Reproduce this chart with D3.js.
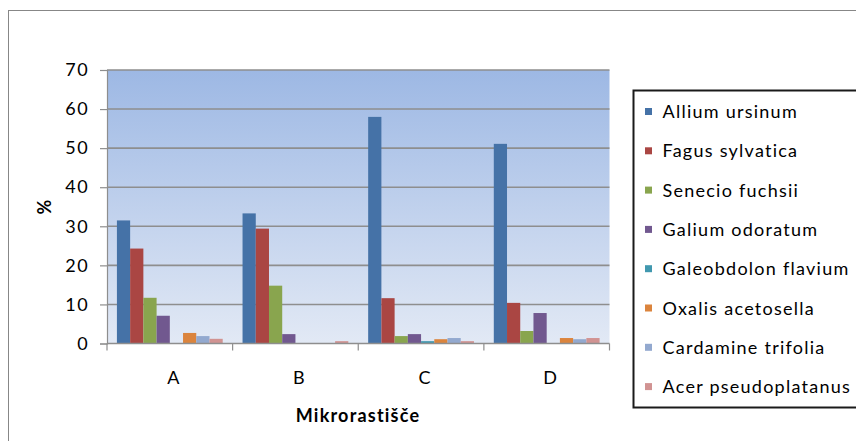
<!DOCTYPE html>
<html>
<head>
<meta charset="utf-8">
<script src="https://cdn.jsdelivr.net/npm/d3@7"></script>
<style>
  html, body { margin: 0; padding: 0; background: #fff; }
  svg { display: block; }
  text { font-family: Lato, "Open Sans", sans-serif; fill: #000; }
</style>
</head>
<body>
<svg id="chart" width="856" height="441"></svg>
<script>
// Sites (micro-habitats) along the x axis
const categories = ["A", "B", "C", "D"];

// Species shown as clustered bars
const series = [
  "Allium ursinum",
  "Fagus sylvatica",
  "Senecio fuchsii",
  "Galium odoratum",
  "Galeobdolon flavium",
  "Oxalis acetosella",
  "Cardamine trifolia",
  "Acer pseudoplatanus"
];

// Share (%) of each species per site, in series order
const valuesA = [31.5, 24.3, 11.7, 7.1, 0, 2.7, 1.9, 1.2];
const valuesB = [33.3, 29.4, 14.8, 2.4, 0, 0, 0, 0.6];
const valuesC = [58.0, 11.6, 1.9, 2.4, 0.6, 1.1, 1.4, 0.6];
const valuesD = [51.1, 10.4, 3.2, 7.8, 0, 1.4, 1.1, 1.4];

const yTicks = [0, 10, 20, 30, 40, 50, 60, 70];

const colors = ["#4572A7", "#AA4643", "#89A54E", "#71588F", "#4198AF", "#DB843D", "#93A9CF", "#D19392"];

const rows = [valuesA, valuesB, valuesC, valuesD];
const data = categories.map((c, i) => ({
  category: c,
  values: series.map((s, j) => ({ series: s, value: rows[i][j] }))
}));

const svg = d3.select("#chart");

// Outer chart frame
svg.append("rect")
  .attr("x", 8.5).attr("y", 10.5)
  .attr("width", 900).attr("height", 500)
  .attr("fill", "none").attr("stroke", "#878787").attr("stroke-width", 1);

const plot = { left: 107, right: 609.5, top: 70, bottom: 343.5 };

const x0 = d3.scaleBand().domain(categories).range([plot.left, plot.right]).padding(0);
const x1 = d3.scaleBand().domain(series).range([0, x0.bandwidth()])
  .paddingInner(0).paddingOuter(0.75);
const y = d3.scaleLinear().domain([0, 70]).range([plot.bottom, plot.top]);
const color = d3.scaleOrdinal().domain(series).range(colors);

// Plot-area gradient background
const defs = svg.append("defs");
const grad = defs.append("linearGradient").attr("id", "plotBg")
  .attr("x1", 0).attr("y1", 0).attr("x2", 0).attr("y2", 1);
grad.append("stop").attr("offset", "0%").attr("stop-color", "#9DB8E4");
grad.append("stop").attr("offset", "100%").attr("stop-color", "#E2E9F5");

svg.append("rect")
  .attr("x", plot.left).attr("y", plot.top)
  .attr("width", plot.right - plot.left).attr("height", plot.bottom - plot.top)
  .attr("fill", "url(#plotBg)");

// Horizontal gridlines
svg.append("g")
  .selectAll("line")
  .data(yTicks.filter(t => t > 0))
  .join("line")
  .attr("x1", plot.left).attr("x2", plot.right)
  .attr("y1", d => y(d)).attr("y2", d => y(d))
  .attr("stroke", "#8E8E8E").attr("stroke-width", 1.6);

// Bars
svg.append("g")
  .selectAll("g")
  .data(data)
  .join("g")
  .attr("transform", d => `translate(${x0(d.category)},0)`)
  .selectAll("rect")
  .data(d => d.values)
  .join("rect")
  .attr("x", d => x1(d.series))
  .attr("width", x1.bandwidth())
  .attr("y", d => y(d.value))
  .attr("height", d => y(0) - y(d.value))
  .attr("fill", d => color(d.series));

// Y axis
const yAxis = svg.append("g")
  .attr("transform", `translate(${plot.left},0)`)
  .call(d3.axisLeft(y).tickValues(yTicks).tickSize(7).tickPadding(11).tickFormat(d3.format("d")));
yAxis.select(".domain").attr("stroke", "#8E8E8E").attr("stroke-width", 1.2);
yAxis.selectAll(".tick line").attr("stroke", "#8E8E8E").attr("stroke-width", 1.2);
yAxis.selectAll(".tick text")
  .attr("font-family", "Lato, sans-serif").attr("font-size", 18)
  .attr("letter-spacing", 1.4).attr("fill", "#000");

// X axis: baseline with boundary ticks between categories
const xg = svg.append("g");
xg.append("line")
  .attr("x1", plot.left).attr("x2", plot.right)
  .attr("y1", y(0)).attr("y2", y(0))
  .attr("stroke", "#8E8E8E").attr("stroke-width", 1.6);
const bounds = categories.map(c => x0(c)).concat([plot.right]);
xg.selectAll("line.b")
  .data(bounds)
  .join("line").attr("class", "b")
  .attr("x1", d => d).attr("x2", d => d)
  .attr("y1", y(0)).attr("y2", y(0) + 7)
  .attr("stroke", "#8E8E8E").attr("stroke-width", 1.2);
xg.selectAll("text")
  .data(categories)
  .join("text")
  .attr("x", d => x0(d) + x0.bandwidth() / 2 + 3.5)
  .attr("y", 384)
  .attr("text-anchor", "middle")
  .attr("font-size", 18)
  .text(d => d);

// Axis titles
svg.append("text")
  .attr("x", 358).attr("y", 422)
  .attr("text-anchor", "middle")
  .attr("font-size", 18).attr("font-weight", "bold")
  .attr("letter-spacing", 1.2)
  .text("Mikrorastišče");

svg.append("text")
  .attr("transform", "translate(51,207) rotate(-90)")
  .attr("text-anchor", "middle")
  .attr("font-size", 18).attr("font-weight", "bold")
  .text("%");

// Legend
const legend = svg.append("g");
legend.append("rect")
  .attr("x", 633.5).attr("y", 90.5)
  .attr("width", 300).attr("height", 317)
  .attr("fill", "#fff").attr("stroke", "#1a1a1a").attr("stroke-width", 2);

const item = legend.selectAll("g.item")
  .data(series)
  .join("g").attr("class", "item")
  .attr("transform", (d, i) => `translate(645,${111.5 + i * 39.3})`);
item.append("rect")
  .attr("x", 0).attr("y", -3.5)
  .attr("width", 7).attr("height", 7)
  .attr("fill", d => color(d));
item.append("text")
  .attr("x", 17.5).attr("y", 6.5)
  .attr("font-size", 18)
  .attr("letter-spacing", 1.25)
  .text(d => d);
</script>
</body>
</html>
